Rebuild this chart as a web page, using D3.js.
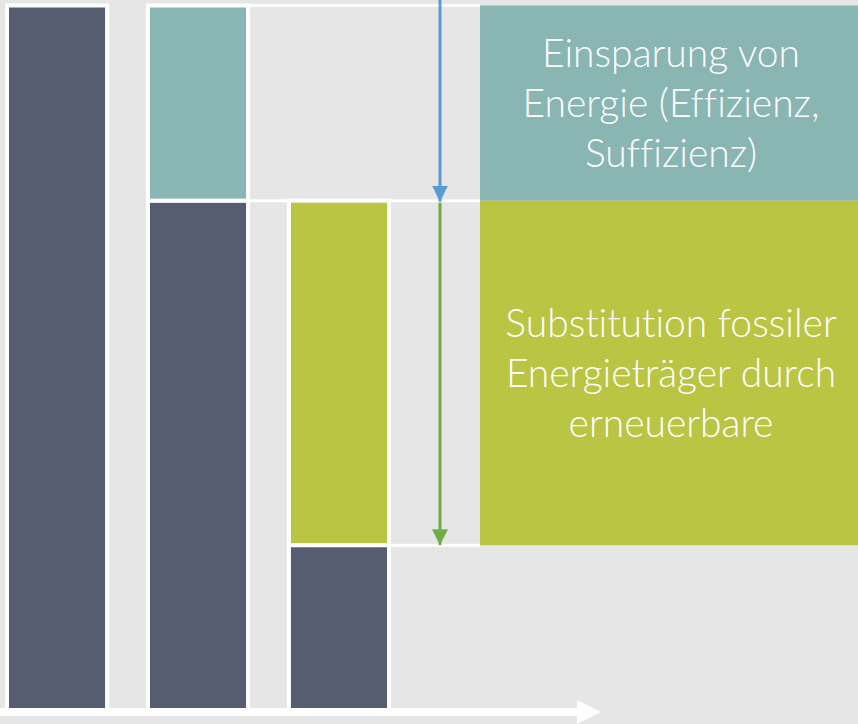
<!DOCTYPE html>
<html>

<head>
	<meta charset="utf-8">
	<title>Energiewende Schema</title>
	<script src="https://d3js.org/d3.v7.min.js"></script>
	<style>
		body { margin: 0; background: #e6e6e6; }
		svg { display: block; }
	</style>
</head>

<body>
	<script>
		// Chart data: three stacked bars (share of energy demand, in %)
		const categories = ['Heute', 'Effizienz', 'Erneuerbare'];
		const fossil = [100, 72.3, 23.4];
		const saving = [0, 27.7, 0];
		const renewable = [0, 0, 48.9];

		// Text in the two boxes on the right
		const savingLabel = ['Einsparung von', 'Energie (Effizienz,', 'Suffizienz)'];
		const renewableLabel = ['Substitution fossiler', 'Energieträger durch', 'erneuerbare'];

		const colors = { fossil: '#575d70', saving: '#89b5b3', renewable: '#bac543', bg: '#e6e6e6' };

		const width = 858;
		const height = 724;

		const svg = d3.select('body')
			.append('svg')
			.attr('width', width)
			.attr('height', height);

		svg.append('rect')
			.attr('width', width)
			.attr('height', height)
			.attr('fill', colors.bg);

		// Scales
		const xScale = d3.scaleBand()
			.domain(categories)
			.range([7, 389])
			.paddingInner(0.29)
			.paddingOuter(0);

		const yScale = d3.scaleLinear()
			.domain([0, 100])
			.range([710, 5.5]);

		// Build stacked segments
		const segments = [];
		categories.forEach((c, i) => {
			let base = 0;
			[['fossil', fossil[i]], ['renewable', renewable[i]], ['saving', saving[i]]].forEach(([key, v]) => {
				if (v > 0) {
					segments.push({ cat: c, key: key, y0: base, y1: base + v });
				}
				base += v;
			});
		});

		const boxLeft = 480;

		// Connector lines from the bars to the boxes
		const top2 = fossil[1] + saving[1];
		const connectors = [
			{ x0: xScale(categories[1]) + xScale.bandwidth(), v: top2 },
			{ x0: xScale(categories[1]) + xScale.bandwidth(), v: fossil[1] },
			{ x0: xScale(categories[2]) + xScale.bandwidth(), v: fossil[2] }
		];
		svg.selectAll('line.conn')
			.data(connectors)
			.enter()
			.append('line')
			.attr('class', 'conn')
			.attr('x1', d => d.x0)
			.attr('x2', boxLeft)
			.attr('y1', d => yScale(d.v))
			.attr('y2', d => yScale(d.v))
			.attr('stroke', '#fff')
			.attr('stroke-width', 3);

		// Bars
		svg.selectAll('rect.seg')
			.data(segments)
			.enter()
			.append('rect')
			.attr('class', 'seg')
			.attr('x', d => xScale(d.cat))
			.attr('width', xScale.bandwidth())
			.attr('y', d => yScale(d.y1))
			.attr('height', d => yScale(d.y0) - yScale(d.y1))
			.attr('fill', d => colors[d.key])
			.attr('stroke', '#fff')
			.attr('stroke-width', 4);

		// Boxes on the right
		const boxes = [
			{ key: 'saving', y0: fossil[1], y1: top2, lines: savingLabel },
			{ key: 'renewable', y0: fossil[2], y1: fossil[1], lines: renewableLabel }
		];
		const box = svg.selectAll('g.box')
			.data(boxes)
			.enter()
			.append('g')
			.attr('class', 'box');

		box.append('rect')
			.attr('x', boxLeft)
			.attr('width', width - boxLeft)
			.attr('y', d => yScale(d.y1))
			.attr('height', d => yScale(d.y0) - yScale(d.y1))
			.attr('fill', d => colors[d.key]);

		box.each(function (d) {
			const cy = (yScale(d.y0) + yScale(d.y1)) / 2;
			const lh = 50;
			d3.select(this).selectAll('text')
				.data(d.lines)
				.enter()
				.append('text')
				.attr('x', (boxLeft + width) / 2 + 2)
				.attr('y', (t, j) => cy + (j - 1) * lh + 14)
				.attr('text-anchor', 'middle')
				.attr('fill', '#fff')
				.style('font-family', 'Lato, "Open Sans", sans-serif')
				.style('font-weight', 300)
				.style('font-variant-ligatures', 'none')
				.style('font-size', '39px')
				.text(t => t);
		});

		// Arrows between the levels
		const defs = svg.append('defs');
		[['blue', '#5b9bd5'], ['green', '#70ad47']].forEach(([id, c]) => {
			defs.append('marker')
				.attr('id', 'head-' + id)
				.attr('viewBox', '0 0 16 16')
				.attr('refX', 16)
				.attr('refY', 8)
				.attr('markerWidth', 16)
				.attr('markerHeight', 16)
				.attr('markerUnits', 'userSpaceOnUse')
				.attr('orient', 'auto')
				.append('path')
				.attr('d', 'M0,0L16,8L0,16Z')
				.attr('fill', c);
		});

		const arrowX = 440;
		svg.append('line')
			.attr('x1', arrowX).attr('x2', arrowX)
			.attr('y1', 0).attr('y2', yScale(fossil[1]) + 1)
			.attr('stroke', '#5b9bd5')
			.attr('stroke-width', 3)
			.attr('marker-end', 'url(#head-blue)');

		svg.append('line')
			.attr('x1', arrowX).attr('x2', arrowX)
			.attr('y1', yScale(fossil[1]) + 2).attr('y2', yScale(fossil[2]))
			.attr('stroke', '#70ad47')
			.attr('stroke-width', 3)
			.attr('marker-end', 'url(#head-green)');

		// Time axis arrow at the bottom
		svg.append('line')
			.attr('x1', 0).attr('x2', 578)
			.attr('y1', 712).attr('y2', 712)
			.attr('stroke', '#fff')
			.attr('stroke-width', 8);

		svg.append('path')
			.attr('d', 'M577,700L601,712L577,724Z')
			.attr('fill', '#fff');
	</script>
</body>

</html>
